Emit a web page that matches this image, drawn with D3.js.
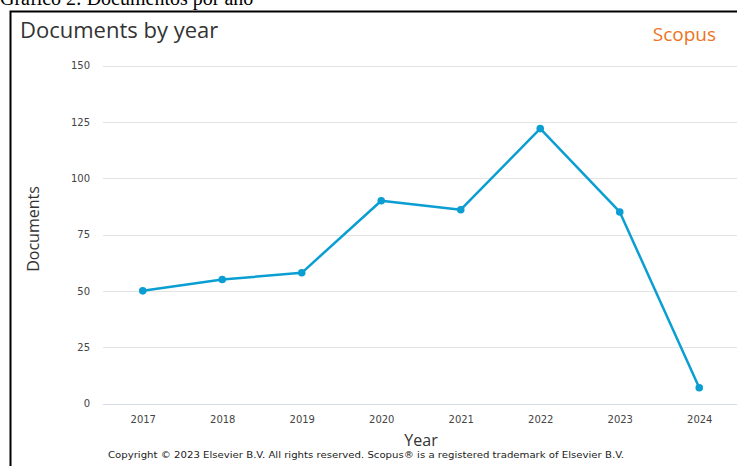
<!DOCTYPE html>
<html><head><meta charset="utf-8">
<script src="https://cdn.jsdelivr.net/npm/d3@7"></script>
<style>body{margin:0;background:#fff;}svg{display:block;}</style>
</head><body>
<script>
const years = ["2017","2018","2019","2020","2021","2022","2023","2024"];
const documents = [50, 55, 58, 90, 86, 122, 85, 7];
const yTicks = [0, 25, 50, 75, 100, 125, 150];

const W = 737, H = 466;
const svg = d3.select("body").append("svg").attr("width", W).attr("height", H);

// caption above frame (cut off at top, as in the reference)
svg.append("text").attr("x", 0).attr("y", 5)
  .attr("font-family", "Liberation Serif, Times New Roman, serif").attr("font-size", 20)
  .attr("fill", "#000").text("Gráfico 2: Documentos por año");

// frame
svg.append("path").attr("d", `M10.5,${H+5} L10.5,11.5 L${W+5},11.5`)
  .attr("fill", "none").attr("stroke", "#000").attr("stroke-width", 2);

const x = d3.scalePoint().domain(years).range([103, 739]).padding(0.5);
const y = d3.scaleLinear().domain([0, 150]).range([403.5, 65.5]);

// gridlines
svg.append("g").selectAll("line").data(yTicks).join("line")
  .attr("x1", 103).attr("x2", 739)
  .attr("y1", d => Math.round(y(d)) + 0.5).attr("y2", d => Math.round(y(d)) + 0.5)
  .attr("stroke", d => d === 0 ? "#d6dde8" : "#e3e3e3").attr("stroke-width", 1);

// y axis labels
const yAxis = d3.axisLeft(y).tickValues(yTicks).tickSize(0).tickPadding(0);
const gy = svg.append("g").attr("transform", "translate(90,0)").call(yAxis);
gy.select(".domain").remove();
gy.selectAll("text").attr("font-family", "DejaVu Sans, sans-serif").attr("font-size", 10)
  .attr("fill", "#444").attr("dy", "0.32em");

// x axis labels
const xAxis = d3.axisBottom(x).tickSize(0).tickPadding(0);
const gx = svg.append("g").attr("transform", "translate(0,416)").call(xAxis);
gx.select(".domain").remove();
gx.selectAll("text").attr("font-family", "DejaVu Sans, sans-serif").attr("font-size", 10)
  .attr("fill", "#444").attr("dy", "0.71em");

// line
const line = d3.line().x((d, i) => x(years[i])).y(d => y(d));
svg.append("path").datum(documents).attr("d", line)
  .attr("fill", "none").attr("stroke", "#0a9ed3").attr("stroke-width", 2.5)
  .attr("stroke-linejoin", "round");
svg.append("g").selectAll("circle").data(documents).join("circle")
  .attr("cx", (d, i) => x(years[i])).attr("cy", d => y(d)).attr("r", 3.8)
  .attr("fill", "#0a9ed3");

// titles
svg.append("text").attr("x", 20).attr("y", 38)
  .attr("font-family", "Open Sans, sans-serif").attr("font-size", 22)
  .attr("fill", "#333").text("Documents by year");
svg.append("text").attr("x", 716).attr("y", 41).attr("text-anchor", "end")
  .attr("font-family", "Open Sans, sans-serif").attr("font-size", 19)
  .attr("fill", "#ec7424").text("Scopus");
svg.append("text").attr("transform", "translate(39,229) rotate(-90)").attr("text-anchor", "middle")
  .attr("font-family", "Open Sans, sans-serif").attr("font-size", 16)
  .attr("fill", "#333").text("Documents");
svg.append("text").attr("x", 421).attr("y", 446).attr("text-anchor", "middle")
  .attr("font-family", "Open Sans, sans-serif").attr("font-size", 16)
  .attr("fill", "#333").text("Year");
svg.append("text").attr("x", 108).attr("y", 458)
  .attr("font-family", "DejaVu Sans, sans-serif").attr("font-size", 9.5)
  .attr("fill", "#222").attr("textLength", 516).attr("lengthAdjust", "spacingAndGlyphs")
  .text("Copyright © 2023 Elsevier B.V. All rights reserved. Scopus® is a registered trademark of Elsevier B.V.");
</script>
</body></html>
